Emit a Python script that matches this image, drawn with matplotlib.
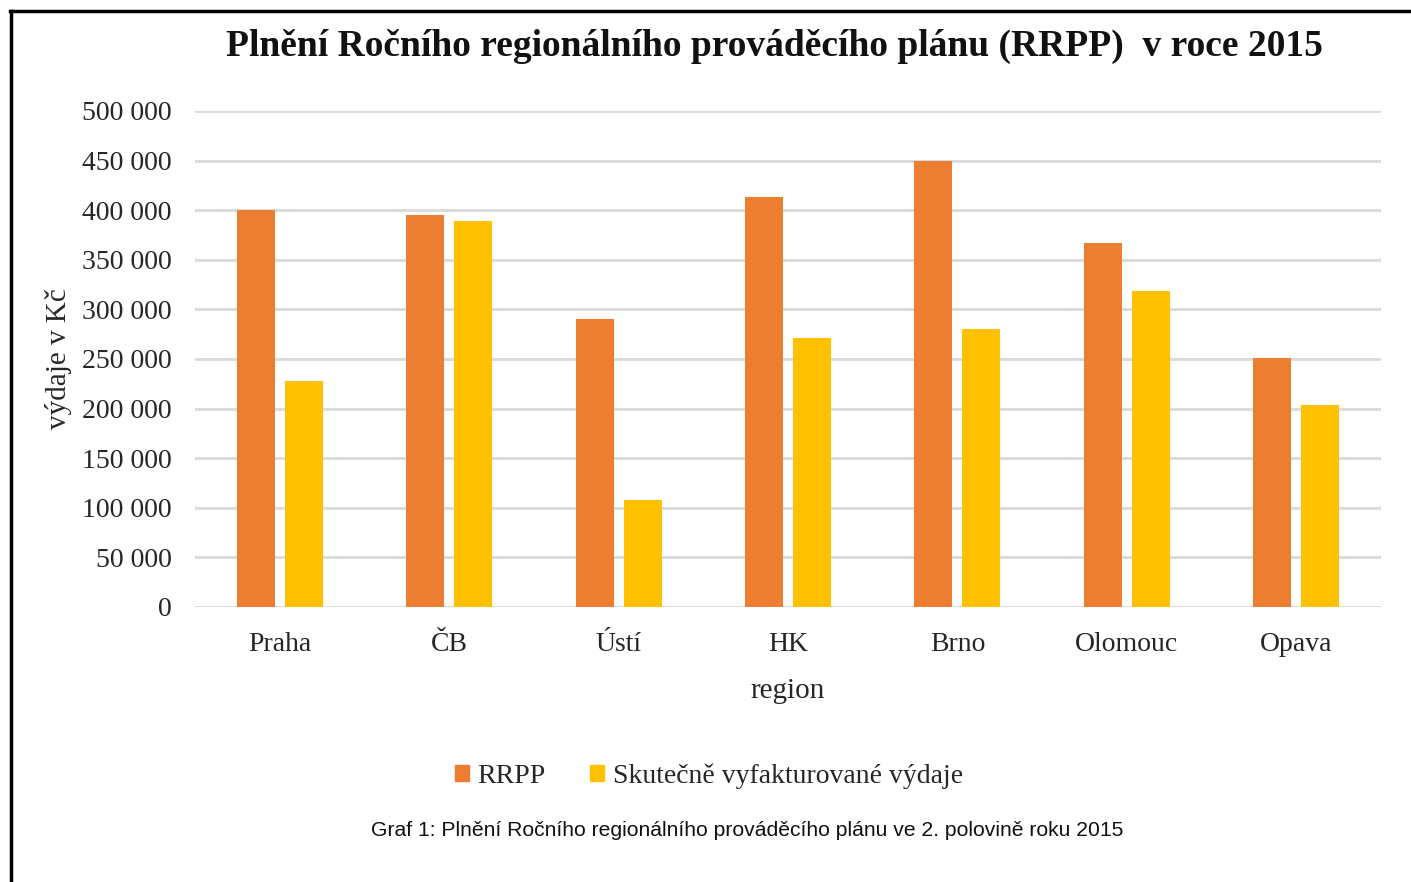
import matplotlib
matplotlib.use("Agg")
import matplotlib.pyplot as plt
from matplotlib.lines import Line2D
from matplotlib.patches import Patch
import numpy as np

categories = ["Praha", "ČB", "Ústí", "HK", "Brno", "Olomouc", "Opava"]
rrpp = [400000, 395000, 290000, 413000, 450000, 367000, 251000]
skutecne = [227500, 389000, 108000, 271000, 280000, 319000, 204000]
yticks = [0, 50000, 100000, 150000, 200000, 250000, 300000, 350000, 400000, 450000, 500000]
ytick_labels = ["0", "50 000", "100 000", "150 000", "200 000", "250 000", "300 000",
                "350 000", "400 000", "450 000", "500 000"]

serif = ["Liberation Serif", "DejaVu Serif"]
sans = ["Liberation Sans", "DejaVu Sans"]
C_ORANGE = "#ED7D31"
C_YELLOW = "#FFC000"
TXT = "#262626"

fig = plt.figure(figsize=(14.11, 8.82), dpi=100)
ax = fig.add_axes([195/1411, 275/882, 1186/1411, 496/882])

x = np.arange(len(categories))
w = 38/169.4
gap = 10/169.4
ax.bar(x - (w+gap)/2, rrpp, width=w, color=C_ORANGE, zorder=3)
ax.bar(x + (w+gap)/2, skutecne, width=w, color=C_YELLOW, zorder=3)

ax.set_xlim(-0.5, len(categories)-0.5)
ax.set_ylim(0, 500000)
ax.set_yticks(yticks)
ax.set_yticklabels(ytick_labels, fontfamily=serif, fontsize=20, color=TXT)
ax.set_xticks(x)
ax.set_xticklabels(categories, fontfamily=serif, fontsize=20, color=TXT)
ax.tick_params(axis="y", length=0, pad=17)
ax.tick_params(axis="x", length=0, pad=18)
for s in ax.spines.values():
    s.set_visible(False)
ax.grid(axis="y", color="#D9D9D9", linewidth=2, zorder=0)
ax.set_axisbelow(True)

ax.set_xlabel("region", fontfamily=serif, fontsize=21, color=TXT, labelpad=15)
ax.set_ylabel("výdaje v Kč", fontfamily=serif, fontsize=21, color=TXT, labelpad=7)

fig.text(0.549, 1-46/882, "Plnění Ročního regionálního prováděcího plánu (RRPP)  v roce 2015",
         ha="center", va="center", fontfamily=serif, fontsize=27, fontweight="bold", color="#111111")

handles = [Patch(color=C_ORANGE), Patch(color=C_YELLOW)]
fig.legend(handles, ["RRPP", "Skutečně vyfakturované výdaje"], loc="center",
           bbox_to_anchor=(709/1411, 1-776/882), ncol=2, frameon=False,
           prop={"family": serif, "size": 20}, handlelength=0.5, handleheight=0.5,
           handletextpad=0.3, columnspacing=1.6, labelcolor=TXT)

fig.text(747/1411, 1-830/882, "Graf 1: Plnění Ročního regionálního prováděcího plánu ve 2. polovině roku 2015",
         ha="center", va="center", fontfamily=sans, fontsize=15.2, color="#111111")

# frame lines (left and top)
fig.add_artist(Line2D([11/1411, 11/1411], [0, 1-11/882], transform=fig.transFigure,
                      color="black", linewidth=2.5))
fig.add_artist(Line2D([10/1411, 1], [1-11/882, 1-11/882], transform=fig.transFigure,
                      color="black", linewidth=2.5))

fig.savefig("out.png", dpi=100)
